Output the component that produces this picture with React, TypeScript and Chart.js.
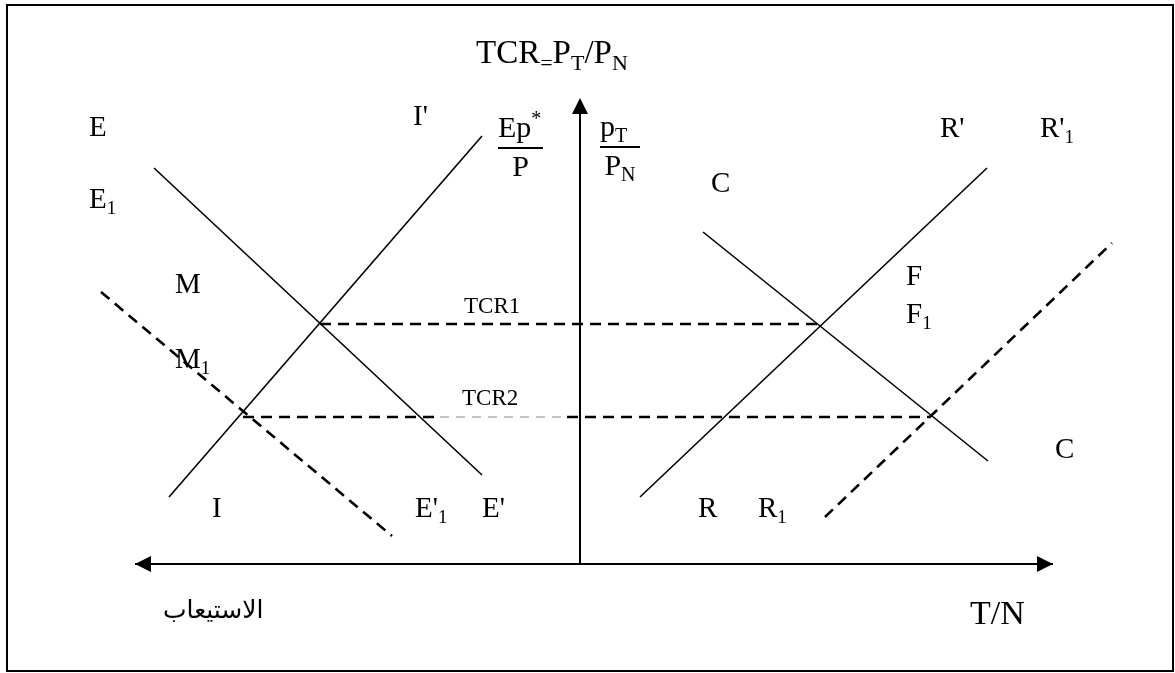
import React, { useEffect, useRef } from "react";
import { Chart, registerables } from "chart.js";

Chart.register(...registerables);

type Pt = { x: number; y: number };

// Curves of the diagram (abstract units: origin at the crossing of the two axes)
const eCurve: Pt[] = [{ x: -42.6, y: 39.6 }, { x: -9.8, y: 8.9 }];
const iCurve: Pt[] = [{ x: -41.1, y: 6.7 }, { x: -9.8, y: 42.8 }];
const mCurve: Pt[] = [{ x: -47.9, y: 27.2 }, { x: -18.8, y: 2.8 }];
const cCurve: Pt[] = [{ x: 12.3, y: 33.2 }, { x: 40.8, y: 10.3 }];
const rCurve: Pt[] = [{ x: 6.0, y: 6.7 }, { x: 40.7, y: 39.6 }];
const r1Curve: Pt[] = [{ x: 24.5, y: 4.7 }, { x: 53.2, y: 32.1 }];

// Exchange-rate levels
const tcr1Level = 24.0;
const tcr1Span = [-26.0, 24.0];
const tcr2Level = 14.7;
const tcr2SpanA = [-33.7, -14.0];
const tcr2SpanGray = [-14.0, -1.3];
const tcr2SpanB = [-1.3, 35.0];

// Axes
const xAxisSpan = [-44.5, 47.3];
const yAxisTop = 46.6;

// Text labels: [text, x(left), y(baseline), size]
const labels: [string, number, number, number][] = [
  ["E", -49.1, 42.8, 29],
  ["I'", -16.7, 43.9, 29],
  ["E_{1}", -49.1, 35.6, 29],
  ["M", -40.5, 27.1, 29],
  ["M_{1}", -40.5, 19.6, 29],
  ["I", -36.8, 4.7, 29],
  ["E'_{1}", -16.5, 4.7, 29],
  ["E'", -9.8, 4.7, 29],
  ["R", 11.8, 4.7, 29],
  ["R_{1}", 17.8, 4.7, 29],
  ["C", 13.1, 37.2, 29],
  ["R'", 36.0, 42.7, 29],
  ["R'_{1}", 46.0, 42.7, 29],
  ["F", 32.6, 27.9, 29],
  ["F_{1}", 32.6, 24.1, 29],
  ["C", 47.5, 10.6, 29],
  ["TCR1", -11.6, 25.1, 23],
  ["TCR2", -11.8, 15.9, 23],
  ["T/N", 39.0, -6.0, 34],
  ["الاستيعاب", -41.7, -5.4, 25],
  ["TCR_{=}P_{T}/P_{N}", -10.4, 50.1, 33],
];

// Fractions: [numerator, denominator, left, right, bar y]
const fractions: [string, string, number, number, number][] = [
  ["Ep^{*}", "P", -8.2, -3.7, 41.6],
  ["p_{T}", "P_{N}", 2.0, 6.0, 41.7],
];

const FONT = '"Liberation Serif", "Times New Roman", "DejaVu Sans", serif';

function richWidth(ctx: CanvasRenderingContext2D, s: string, size: number) {
  return drawRich(ctx, s, 0, 0, size, false);
}

function drawRich(
  ctx: CanvasRenderingContext2D,
  s: string,
  x: number,
  y: number,
  size: number,
  paint = true
) {
  const re = /([_^])\{([^}]*)\}|([^_^]+)/g;
  let m: RegExpExecArray | null;
  let cx = x;
  while ((m = re.exec(s))) {
    if (m[3]) {
      ctx.font = `${size}px ${FONT}`;
      if (paint) ctx.fillText(m[3], cx, y);
      cx += ctx.measureText(m[3]).width;
    } else {
      const sub = m[1] === "_";
      const sz = Math.round(size * 0.66);
      ctx.font = `${sz}px ${FONT}`;
      const dy = sub ? size * 0.2 : -size * 0.4;
      if (paint) ctx.fillText(m[2], cx, y + dy);
      cx += ctx.measureText(m[2]).width;
    }
  }
  return cx - x;
}

const seg = (a: number[], y: number): Pt[] => [
  { x: a[0], y },
  { x: a[1], y },
];

const diagramPlugin = {
  id: "diagram",
  beforeDraw(chart: any) {
    const ctx = chart.ctx as CanvasRenderingContext2D;
    ctx.save();
    ctx.fillStyle = "#fff";
    ctx.fillRect(0, 0, chart.width, chart.height);
    ctx.strokeStyle = "#000";
    ctx.lineWidth = 2;
    ctx.strokeRect(7, 5, chart.width - 9, chart.height - 7);
    ctx.restore();
  },
  afterDatasetsDraw(chart: any) {
    const ctx = chart.ctx as CanvasRenderingContext2D;
    const xs = chart.scales.x;
    const ys = chart.scales.y;
    const px = (v: number) => xs.getPixelForValue(v);
    const py = (v: number) => ys.getPixelForValue(v);
    ctx.save();
    ctx.fillStyle = "#000";
    // arrow heads
    const ox = px(0);
    const oy = py(0);
    const tri = (pts: number[][]) => {
      ctx.beginPath();
      ctx.moveTo(pts[0][0], pts[0][1]);
      ctx.lineTo(pts[1][0], pts[1][1]);
      ctx.lineTo(pts[2][0], pts[2][1]);
      ctx.closePath();
      ctx.fill();
    };
    const L = 16;
    const W = 8;
    const lx = px(xAxisSpan[0]);
    const rx = px(xAxisSpan[1]);
    tri([[lx, oy], [lx + L, oy - W], [lx + L, oy + W]]);
    tri([[rx, oy], [rx - L, oy - W], [rx - L, oy + W]]);
    const ty = py(yAxisTop);
    tri([[ox, ty], [ox - W, ty + L], [ox + W, ty + L]]);

    // labels
    ctx.textBaseline = "alphabetic";
    ctx.textAlign = "left";
    for (const [t, x, y, size] of labels) {
      drawRich(ctx, t, px(x), py(y), size);
    }
    // fractions
    for (const [num, den, l, r, b] of fractions) {
      const xl = px(l);
      const xr = px(r);
      const yb = py(b);
      drawRich(ctx, num, xl, yb - 11, 30);
      ctx.strokeStyle = "#000";
      ctx.lineWidth = 2;
      ctx.beginPath();
      ctx.moveTo(xl, yb);
      ctx.lineTo(xr, yb);
      ctx.stroke();
      const dw = richWidth(ctx, den, 30);
      drawRich(ctx, den, (xl + xr) / 2 - dw / 2, yb + 28, 30);
    }
    ctx.restore();
  },
};

function line(data: Pt[], opts: any = {}) {
  return {
    data,
    showLine: true,
    borderColor: "#000",
    borderWidth: 1.6,
    pointRadius: 0,
    pointHoverRadius: 0,
    fill: false,
    tension: 0,
    ...opts,
  };
}

export default function App() {
  const ref = useRef<HTMLCanvasElement | null>(null);
  useEffect(() => {
    if (!ref.current) return;
    const dash = { borderDash: [11, 7], borderWidth: 2.6 };
    const chart = new Chart(ref.current, {
      type: "scatter",
      data: {
        datasets: [
          line(eCurve),
          line(iCurve),
          line(mCurve, dash),
          line(cCurve),
          line(rCurve),
          line(r1Curve, dash),
          line(seg(tcr1Span, tcr1Level), dash),
          line(seg(tcr2SpanA, tcr2Level), dash),
          line(seg(tcr2SpanGray, tcr2Level), {
            borderDash: [9, 7],
            borderWidth: 1,
            borderColor: "#8a8a8a",
          }),
          line(seg(tcr2SpanB, tcr2Level), dash),
          line(seg(xAxisSpan, 0), { borderWidth: 2 }),
          line(
            [
              { x: 0, y: 0 },
              { x: 0, y: yAxisTop - 1.2 },
            ],
            { borderWidth: 2 }
          ),
        ] as any,
      },
      options: {
        animation: false,
        responsive: false,
        devicePixelRatio: 1,
        layout: { padding: 0 },
        plugins: {
          legend: { display: false },
          tooltip: { enabled: false },
        },
        scales: {
          x: { type: "linear", min: -58, max: 59.5, display: false },
          y: { type: "linear", min: -10.9, max: 56.4, display: false },
        },
      },
      plugins: [diagramPlugin],
    });
    return () => chart.destroy();
  }, []);
  return (
    <div style={{ position: "fixed", left: 0, top: 0, width: 1175, height: 673 }}>
      <canvas ref={ref} width={1175} height={673} />
    </div>
  );
}
